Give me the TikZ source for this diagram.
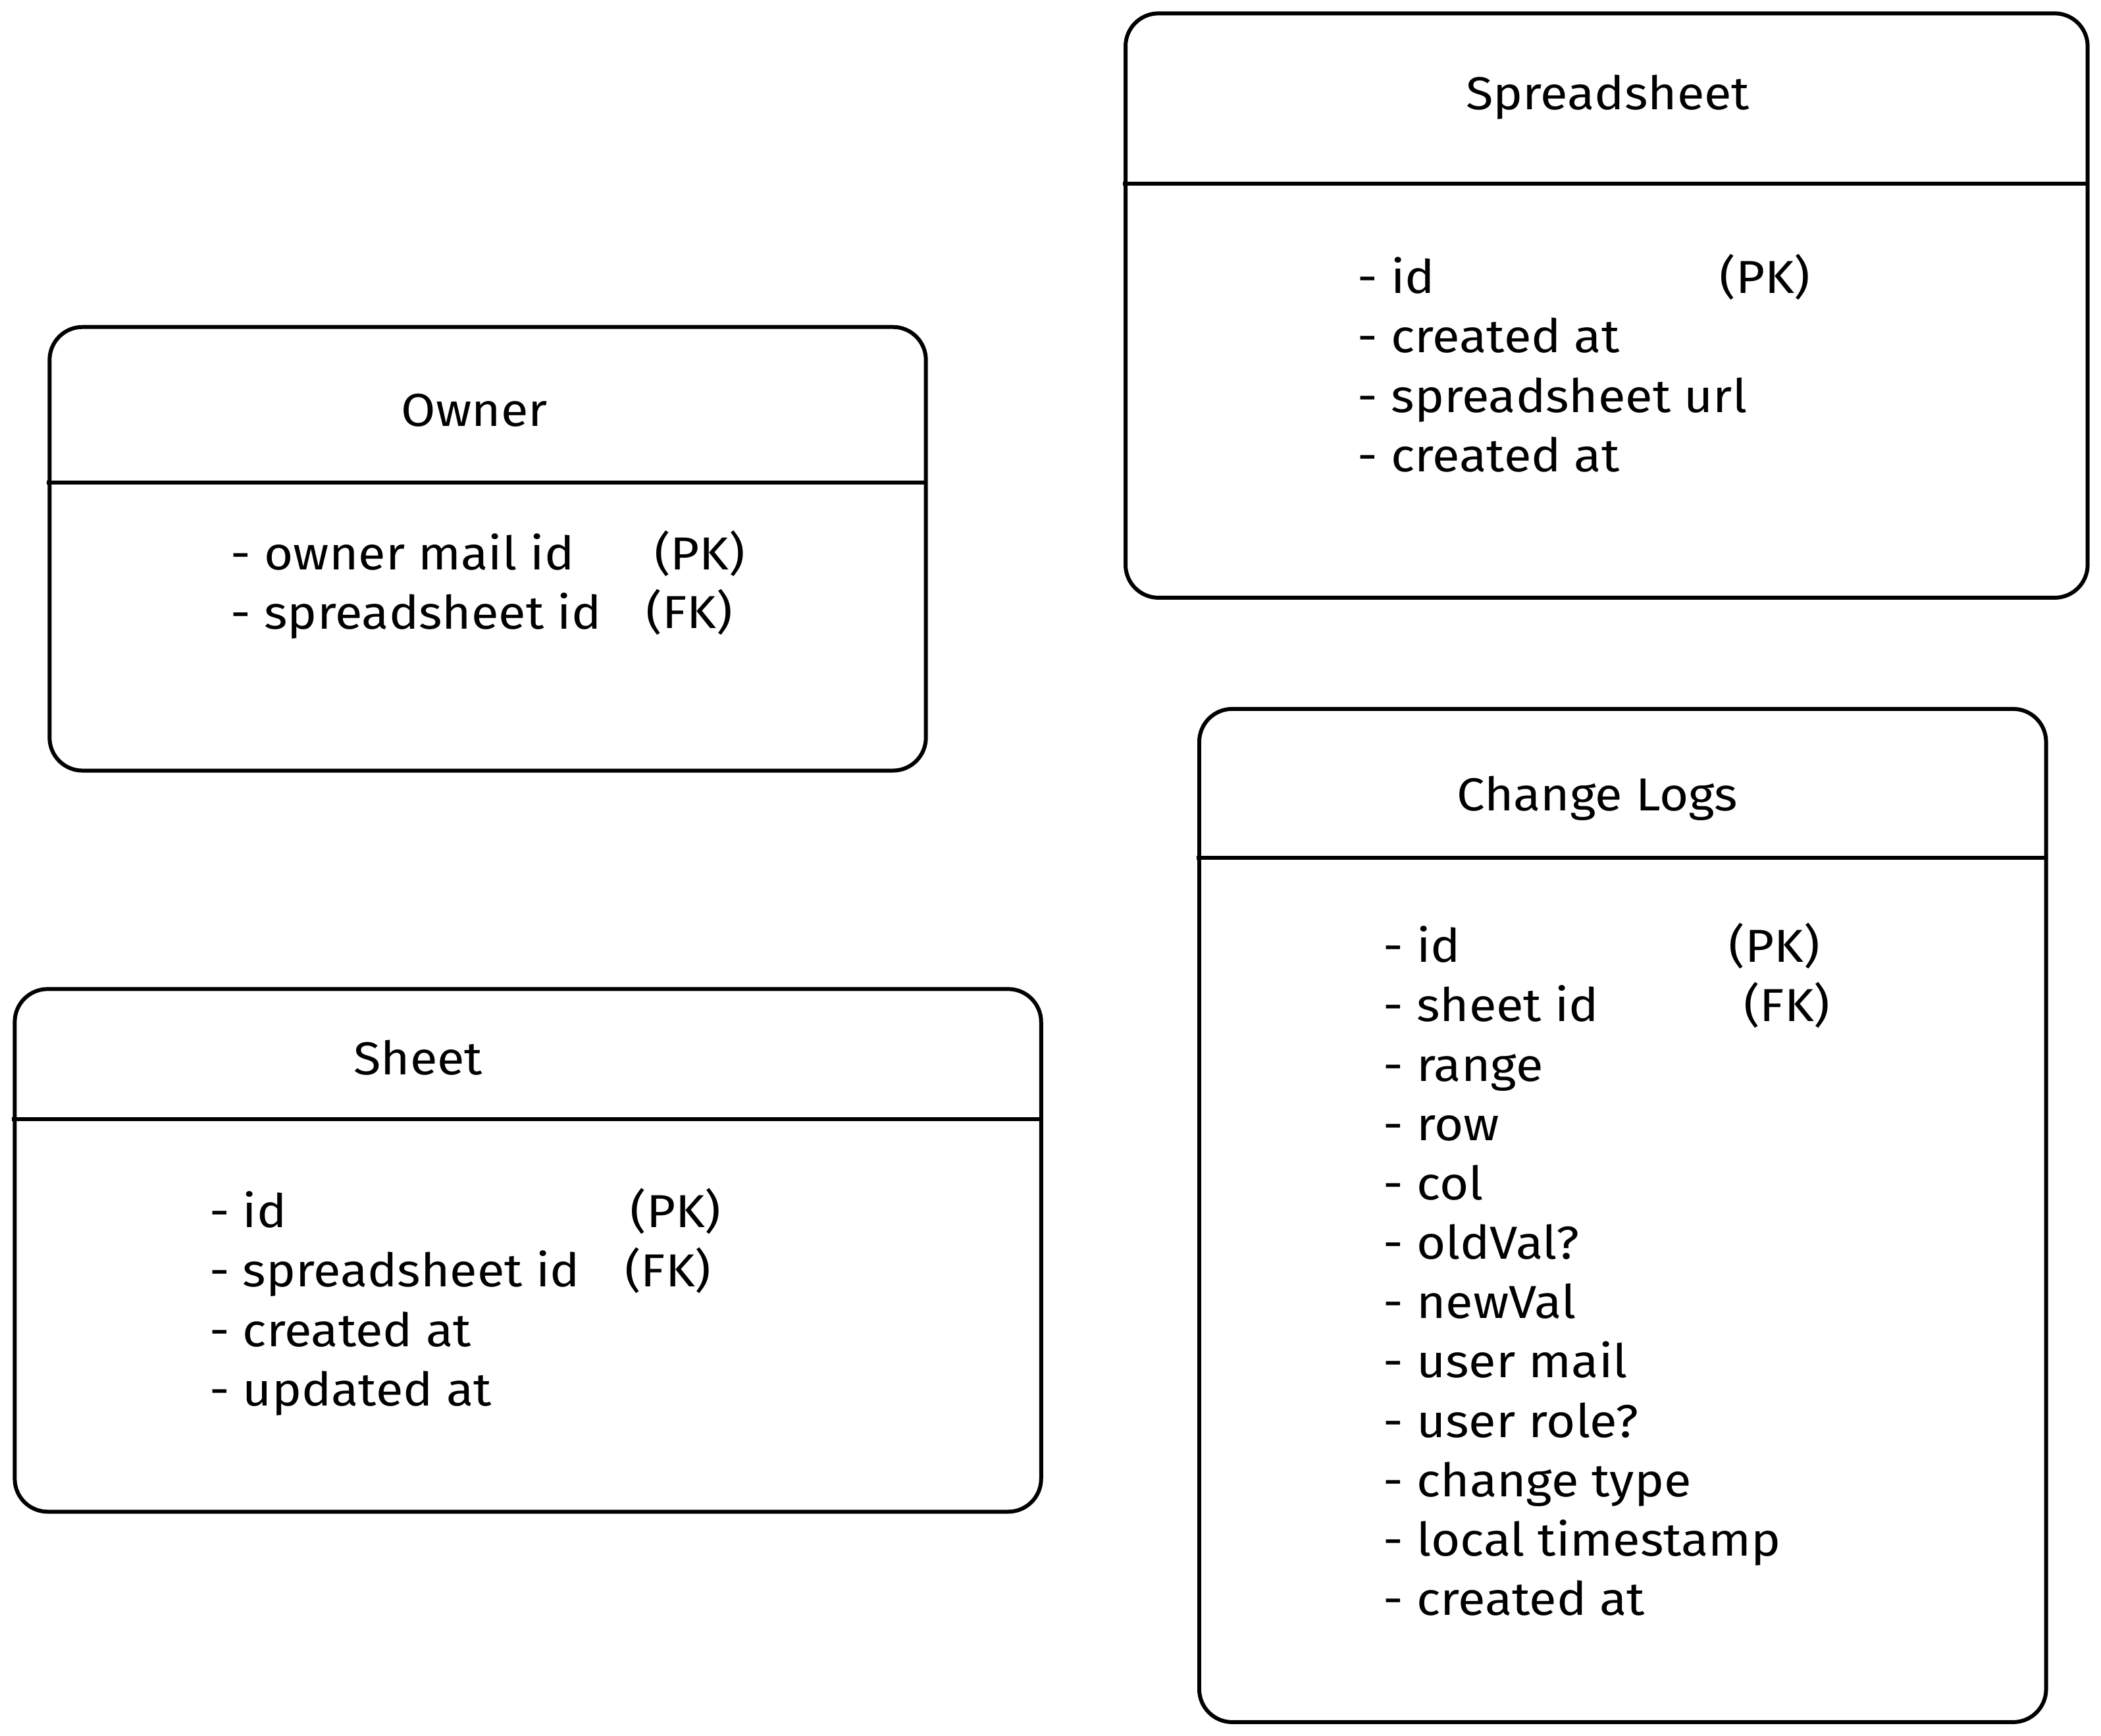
\documentclass[tikz,border=0pt]{standalone}
\usepackage{fontspec}
\setmainfont[FakeStretch=1.08]{Fira Sans}
\begin{document}
\begin{tikzpicture}[
    x=0.02036cm, y=-0.02036cm,
    tbox/.style={draw, line width=1.7pt, rounded corners=0.5cm},
    divider/.style={line width=1.7pt},
    ttl/.style={font=\fontsize{20}{24}\selectfont, anchor=base, inner sep=0pt},
    fld/.style={font=\fontsize{20}{24}\selectfont, anchor=base west, inner sep=0pt},
  ]
  \useasboundingbox (0,0) rectangle (1568,1295);

  % Spreadsheet
  \draw[tbox] (840,10) rectangle (1558,446);
  \draw[divider] (838,137) -- (1558,137);
  \node[ttl] (ss-title) at (1200,82) {Spreadsheet};
  \foreach \t [count=\i] in {id, created at, spreadsheet url, created at}
    \node[fld] (ss-f\i) at (1013,{219+44.3*(\i-1)}) {- \t};
  \node[fld] (ss-pk) at (1283,219) {(PK)};

  % Owner
  \draw[tbox] (37,244) rectangle (691,575);
  \draw[divider] (35,360) -- (691,360);
  \node[ttl] (own-title) at (354,318) {Owner};
  \foreach \t [count=\i] in {owner mail id, spreadsheet id}
    \node[fld] (own-f\i) at (172,{425+44.3*(\i-1)}) {- \t};
  \node[fld] (own-pk) at (488,425) {(PK)};
  \node[fld] (own-fk) at (482,469) {(FK)};

  % Sheet
  \draw[tbox] (11,738) rectangle (777,1128);
  \draw[divider] (9,835) -- (777,835);
  \node[ttl] (sh-title) at (312,802) {Sheet};
  \foreach \t [count=\i] in {id, spreadsheet id, created at, updated at}
    \node[fld] (sh-f\i) at (156,{916+44.3*(\i-1)}) {- \t};
  \node[fld] (sh-pk) at (470,916) {(PK)};
  \node[fld] (sh-fk) at (466,960) {(FK)};

  % Change Logs
  \draw[tbox] (895,529) rectangle (1527,1285);
  \draw[divider] (893,640) -- (1527,640);
  \node[ttl] (cl-title) at (1192,605) {Change Logs};
  \foreach \t [count=\i] in {id, sheet id, range, row, col, oldVal?, newVal,
      user mail, user role?, change type, local timestamp, created at}
    \node[fld] (cl-f\i) at (1032,{718+44.3*(\i-1)}) {- \t};
  \node[fld] (cl-pk) at (1290,718) {(PK)};
  \node[fld] (cl-fk) at (1301,762) {(FK)};

\end{tikzpicture}
\end{document}
